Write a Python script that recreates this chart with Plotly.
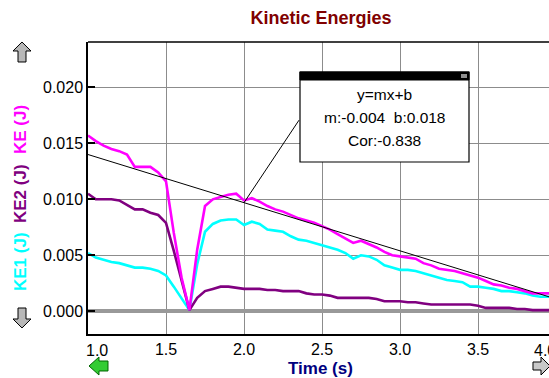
import numpy as np
import plotly.graph_objects as go

# ---------------- data ----------------
time_s = [1.00, 1.05, 1.10, 1.15, 1.20, 1.25, 1.30, 1.35, 1.40, 1.45,
          1.50, 1.55, 1.60, 1.65, 1.70, 1.75, 1.80, 1.85, 1.90, 1.95,
          2.00, 2.05, 2.10, 2.15, 2.20, 2.25, 2.30, 2.35, 2.40, 2.45,
          2.50, 2.55, 2.60, 2.65, 2.70, 2.75, 2.80, 2.85, 2.90, 2.95,
          3.00, 3.05, 3.10, 3.15, 3.20, 3.25, 3.30, 3.35, 3.40, 3.45,
          3.50, 3.55, 3.60, 3.65, 3.70, 3.75, 3.80, 3.85, 3.90, 3.95, 4.00]

ke_total = [0.0157, 0.0152, 0.0148, 0.0145, 0.0143, 0.0140, 0.0129, 0.0129, 0.0129, 0.0124,
            0.0116, 0.0070, 0.0030, 0.0001, 0.0055, 0.0094, 0.0100, 0.0102, 0.0104, 0.0105,
            0.0099, 0.0101, 0.0098, 0.0094, 0.0091, 0.0089, 0.0086, 0.0083, 0.0081, 0.0079,
            0.0076, 0.0073, 0.0069, 0.0065, 0.0061, 0.0063, 0.0060, 0.0057, 0.0053, 0.0050,
            0.0049, 0.0048, 0.0047, 0.0043, 0.0041, 0.0038, 0.0037, 0.0036, 0.0034, 0.0032,
            0.0030, 0.0027, 0.0024, 0.0023, 0.0021, 0.0020, 0.0018, 0.0016, 0.0016, 0.0016, 0.0016]

ke2 = [0.0105, 0.0100, 0.0100, 0.0100, 0.0099, 0.0095, 0.0091, 0.0091, 0.0088, 0.0086,
       0.0079, 0.0054, 0.0028, 0.0001, 0.0012, 0.0018, 0.0020, 0.0022, 0.0022, 0.0021,
       0.0020, 0.0020, 0.0020, 0.0019, 0.0019, 0.0018, 0.0018, 0.0018, 0.0016, 0.0015,
       0.0015, 0.0014, 0.0012, 0.0012, 0.0012, 0.0012, 0.0012, 0.0011, 0.0009, 0.0009,
       0.0009, 0.0008, 0.0008, 0.0007, 0.0006, 0.0006, 0.0006, 0.0006, 0.0006, 0.0006,
       0.0005, 0.0003, 0.0003, 0.0003, 0.0003, 0.0002, 0.0002, 0.0001, 0.0001, 0.0001, 0.0001]

ke1 = [0.0052, 0.0048, 0.0046, 0.0044, 0.0043, 0.0041, 0.0039, 0.0039, 0.0038, 0.0036,
       0.0032, 0.0022, 0.0012, 0.0001, 0.0042, 0.0071, 0.0078, 0.0081, 0.0082, 0.0082,
       0.0077, 0.0080, 0.0078, 0.0073, 0.0072, 0.0071, 0.0067, 0.0064, 0.0063, 0.0061,
       0.0059, 0.0057, 0.0055, 0.0052, 0.0047, 0.0050, 0.0049, 0.0046, 0.0041, 0.0039,
       0.0037, 0.0037, 0.0036, 0.0034, 0.0032, 0.0030, 0.0028, 0.0027, 0.0026, 0.0022,
       0.0022, 0.0021, 0.0020, 0.0018, 0.0018, 0.0017, 0.0016, 0.0014, 0.0013, 0.0013, 0.0013]

fit_time = [1.0, 4.0]
fit_ke = [0.0140, 0.0011]
fit_text = ["y=mx+b", "m:-0.004  b:0.018", "Cor:-0.838"]
fit_point_time = 2.0

x_tickvals = [1.5, 2.0, 2.5, 3.0, 3.5]
x_ticktext = ["1.5", "2.0", "2.5", "3.0", "3.5"]
y_tickvals = [0.0, 0.005, 0.010, 0.015, 0.020]
y_ticktext = ["0.000", "0.005", "0.010", "0.015", "0.020"]

x_range = [1.0, 3.955]
y_range = [-0.00203, 0.02405]

# ---------------- layout helpers (pixel -> paper) ----------------
W, H = 549, 378
PL, PR, PT, PB = 88, 549, 42, 334


def px(x):
    return (x - PL) / (PR - PL)


def py(y):
    return (PB - y) / (PB - PT)


def poly(points):
    d = "M " + " L ".join(f"{px(a):.5f},{py(b):.5f}" for a, b in points) + " Z"
    return d


FONT = "Liberation Sans, Arial, sans-serif"

fig = go.Figure()
fig.add_trace(go.Scatter(x=time_s, y=ke1, mode="lines",
                         line=dict(color="#00FFFF", width=2.6), name="KE1"))
fig.add_trace(go.Scatter(x=time_s, y=ke2, mode="lines",
                         line=dict(color="#800080", width=2.6), name="KE2"))
fig.add_trace(go.Scatter(x=time_s, y=ke_total, mode="lines",
                         line=dict(color="#FF00FF", width=2.6), name="KE"))
fig.add_trace(go.Scatter(x=fit_time, y=fit_ke, mode="lines",
                         line=dict(color="#000000", width=1), name="fit"))

shapes = []
# top border of plot
shapes.append(dict(type="line", xref="paper", yref="paper", x0=0, x1=1, y0=1, y1=1,
                   line=dict(color="black", width=1.5)))
# arrows
shapes.append(dict(type="path", xref="paper", yref="paper",
                   path=poly([(22, 42), (13, 51), (18, 51), (18, 62), (26, 62), (26, 51), (31, 51)]),
                   fillcolor="#B8B8B8", line=dict(color="black", width=1)))
shapes.append(dict(type="path", xref="paper", yref="paper",
                   path=poly([(22, 328), (13, 319), (18, 319), (18, 308), (26, 308), (26, 319), (31, 319)]),
                   fillcolor="#B8B8B8", line=dict(color="black", width=1)))
shapes.append(dict(type="path", xref="paper", yref="paper",
                   path=poly([(89, 366), (99, 357), (99, 361), (108, 361), (108, 371), (99, 371), (99, 375)]),
                   fillcolor="#33CC33", line=dict(color="#006600", width=1)))
shapes.append(dict(type="path", xref="paper", yref="paper",
                   path=poly([(533, 362), (541, 362), (541, 357), (550, 366), (541, 375), (541, 370), (533, 370)]),
                   fillcolor="#C8C8C8", line=dict(color="black", width=1)))
# regression box
shapes.append(dict(type="rect", xref="paper", yref="paper",
                   x0=px(300), x1=px(469), y0=py(72), y1=py(162),
                   fillcolor="white", line=dict(color="black", width=1.2)))
shapes.append(dict(type="rect", xref="paper", yref="paper",
                   x0=px(300), x1=px(469), y0=py(72), y1=py(80),
                   fillcolor="black", line=dict(color="black", width=1)))
shapes.append(dict(type="rect", xref="paper", yref="paper",
                   x0=px(461), x1=px(467), y0=py(74), y1=py(78),
                   fillcolor="#909090", line=dict(width=0)))

annotations = []
for txt, yy in zip(fit_text, [95, 117, 140]):
    annotations.append(dict(text=txt, xref="paper", yref="paper", x=px(384.5), y=py(yy),
                            xanchor="center", yanchor="middle", showarrow=False,
                            font=dict(family=FONT, size=15.5, color="black")))
# pointer line from the box to the fit line
fit_at_point = float(np.interp(fit_point_time, fit_time, fit_ke))
annotations.append(dict(text="", x=fit_point_time, y=fit_at_point, xref="x", yref="y",
                        showarrow=True, arrowhead=0, arrowwidth=1, arrowcolor="black",
                        ax=56, ay=-84, standoff=0, startstandoff=0))
# y axis titles (three colours)
for txt, col, yy in [("KE1 (J)", "#00FFFF", 262), ("KE2 (J)", "#800080", 194), ("KE (J)", "#FF00FF", 130)]:
    annotations.append(dict(text=f"<b>{txt}</b>", xref="paper", yref="paper", x=px(20), y=py(yy),
                            xanchor="center", yanchor="middle", textangle=-90, showarrow=False,
                            font=dict(family=FONT, size=17, color=col)))
# end x tick labels
annotations.append(dict(text="1.0", xref="paper", yref="paper", x=px(97), y=py(350),
                        xanchor="center", yanchor="middle", showarrow=False,
                        font=dict(family=FONT, size=16, color="black")))
annotations.append(dict(text="4.0", xref="paper", yref="paper", x=px(545), y=py(350),
                        xanchor="center", yanchor="middle", showarrow=False,
                        font=dict(family=FONT, size=16, color="black")))
# x axis title
annotations.append(dict(text="<b>Time (s)</b>", xref="paper", yref="paper", x=px(320), y=py(368),
                        xanchor="center", yanchor="middle", showarrow=False,
                        font=dict(family=FONT, size=17, color="#000080")))

fig.update_layout(
    width=W, height=H,
    margin=dict(l=PL, r=W - PR, t=PT, b=H - PB, autoexpand=False),
    paper_bgcolor="white", plot_bgcolor="white",
    showlegend=False,
    title=dict(text="<b>Kinetic Energies</b>", x=321 / W, xref="container", xanchor="center",
               y=1 - 18 / H, yref="container", yanchor="middle",
               font=dict(family=FONT, size=18, color="#800000")),
    shapes=shapes, annotations=annotations,
    xaxis=dict(range=x_range, tickvals=x_tickvals, ticktext=x_ticktext,
               showgrid=True, gridcolor="#8C8C8C", gridwidth=1,
               showline=True, linecolor="black", linewidth=1.5,
               ticks="", zeroline=False,
               tickfont=dict(family=FONT, size=16, color="black")),
    yaxis=dict(range=y_range, tickvals=y_tickvals, ticktext=y_ticktext,
               showgrid=True, gridcolor="#8C8C8C", gridwidth=1,
               showline=True, linecolor="black", linewidth=1.5,
               ticks="inside", ticklen=7, tickcolor="black", tickwidth=1.5,
               zeroline=True, zerolinecolor="#999999", zerolinewidth=3.5,
               tickfont=dict(family=FONT, size=16, color="black")),
)

fig.write_html("out.html", config={"displayModeBar": False},
               post_script="document.body.style.margin='0';document.body.style.overflow='hidden';")
